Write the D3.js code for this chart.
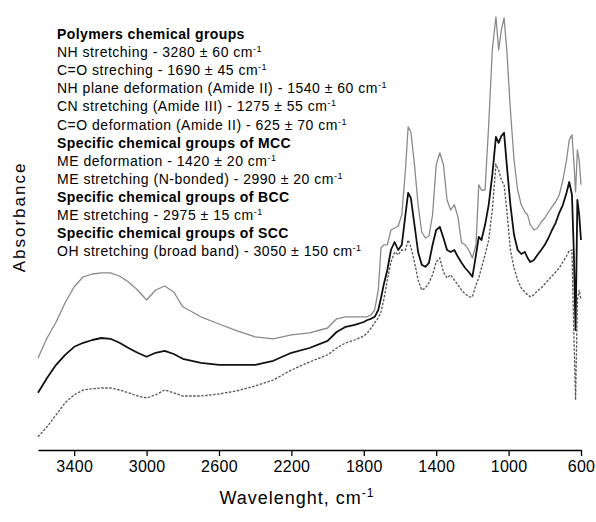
<!DOCTYPE html>
<html>
<head>
<meta charset="utf-8">
<script src="https://cdn.jsdelivr.net/npm/d3@7"></script>
<style>
  html, body { margin: 0; padding: 0; background: #fff; }
  svg { display: block; font-family: Arial, "Liberation Sans", sans-serif; }
</style>
</head>
<body>
<svg id="chart" width="596" height="522"></svg>
<script>
// FTIR spectra: wavenumber grid (cm-1) and absorbance (arbitrary units) for three samples
const wavenumbers = [3600,3550,3500,3450,3400,3350,3300,3250,3200,3150,3100,3050,3000,2950,2900,2850,2800,
  2700,2600,2500,2400,2300,2200,2100,2000,1950,1900,1850,1800,1780,1760,1740,1720,1705,1690,
  1670,1650,1630,1610,1590,1570,1555,1540,1520,1500,1480,1460,1440,1420,1400,1380,1360,1340,1320,1300,
  1280,1260,1240,1220,1200,1180,1165,1150,1130,1110,1090,1070,1055,1040,1025,1010,990,970,950,930,910,
  895,880,860,840,820,800,780,760,740,720,700,680,665,650,640,630,620,610,600];

const seriesGray = [23,28,32,36.8,40.8,43.3,44,44.3,44.3,43.5,42,40,37.5,40,41,39.5,35.8,
  33.3,31.5,29.8,28.3,27.8,28.8,29.3,30.5,32.8,33.3,33.3,33.3,33.3,33.8,35,40,50.5,51.3,
  51.3,55,55.5,56,58.8,70,80.8,79.5,71.3,61.3,54.5,53,53.5,58.8,71.3,74.3,71.3,62.5,60,61.3,
  58.3,51.8,51.3,50,48,51.3,66.3,65,65,81.3,100,108.3,100,105,108,100,85,72.5,65,61.3,59.5,
  58.8,56.3,55,55.5,57,58,59.5,60.8,62,63.8,67.5,72.5,77.5,78.8,72.5,64.5,75,72.5,66.3];

const seriesBlack = [14.3,18,21.3,23.8,25.8,26.8,27.5,28,27.8,26.8,25.5,24.3,23.3,24.3,24.8,24,22.8,
  21.8,21.3,21.3,21.3,22.3,24.3,25.5,27.3,29.5,30.8,31.3,32,32.5,32.8,33.3,35,38,41.3,
  45,50,52,50,51.3,58.8,64.3,63,56.3,49.5,46.3,45.8,46.8,51.3,55,55.8,53,50,49.5,50,
  48.3,46.8,45.5,44.5,43.3,48.8,53.3,52.5,56.3,61.3,68.8,78.3,76.8,78.5,79.3,71.3,61.3,53.8,50,49,49.5,
  48,47,47.5,48.8,50,51.3,53,55,56.8,59.3,61.3,64.3,67,63.8,50,30,62.5,58.8,52.5];

const seriesDotted = [3.3,5.8,8.8,11.8,13.8,15,15.3,15.5,15.5,15,14.3,13.5,13,13.8,15,14.3,13.5,
  13.5,14,14.8,16,17.5,20,22,23.8,25.5,26.8,27.5,28.5,29.3,30.5,31.8,33,34.5,37.5,
  42.5,47,49.5,48.8,50,50,52.5,50.8,47,42.5,40,40.5,41.8,43.8,47,48,44.5,43,43.8,42.5,
  41.3,40,39,38.3,38.3,41.3,43,45.5,48.8,52.5,60,71.3,70,67.5,66.3,60,50,45.5,42.5,40.5,39.5,
  38.8,38.3,38.8,39.8,40.5,41.5,42.5,43.5,44.5,45.5,47,48.5,49.8,50,30,12.5,37.5,40,37.5];

const xTicks = [3400,3000,2600,2200,1800,1400,1000,600];

const annotations = [
  {text: "Polymers chemical groups", bold: true},
  {text: "NH stretching -  3280 ± 60 cm", sup: true},
  {text: "C=O streching - 1690 ± 45  cm", sup: true},
  {text: "NH plane deformation (Amide II) - 1540 ± 60  cm", sup: true},
  {text: "CN stretching (Amide III) - 1275 ± 55  cm", sup: true},
  {text: "C=O deformation (Amide II) - 625 ± 70  cm", sup: true},
  {text: "Specific chemical groups of MCC", bold: true},
  {text: "ME deformation - 1420 ± 20  cm", sup: true},
  {text: "ME stretching (N-bonded) - 2990 ± 20  cm", sup: true},
  {text: "Specific chemical groups of BCC", bold: true},
  {text: "ME stretching - 2975 ± 15  cm", sup: true},
  {text: "Specific chemical groups of SCC", bold: true},
  {text: "OH stretching (broad band) - 3050 ± 150  cm", sup: true}
];

const svg = d3.select("#chart");

const x = d3.scaleLinear().domain([3600, 600]).range([38, 581]);
const y = d3.scaleLinear().domain([0, 110]).range([450, 10]);

const line = d3.line().x(d => x(d[0])).y(d => y(d[1]));
const pts = vals => wavenumbers.map((w, i) => [w, vals[i]]);

// spectra
svg.append("path").attr("d", line(pts(seriesGray)))
  .attr("fill", "none").attr("stroke", "#8a8a8a").attr("stroke-width", 1.3)
  .attr("stroke-linejoin", "round");
svg.append("path").attr("d", line(pts(seriesBlack)))
  .attr("fill", "none").attr("stroke", "#111").attr("stroke-width", 1.8)
  .attr("stroke-linejoin", "round");
svg.append("path").attr("d", line(pts(seriesDotted)))
  .attr("fill", "none").attr("stroke", "#555").attr("stroke-width", 1.3)
  .attr("stroke-dasharray", "2.5,1.5");

// x axis
const xAxis = svg.append("g").attr("transform", "translate(0,450)")
  .call(d3.axisBottom(x).tickValues(xTicks).tickSize(6).tickSizeOuter(0).tickPadding(5).tickFormat(d3.format("d")));
xAxis.select(".domain").attr("stroke", "#000").attr("stroke-width", 1.5);
xAxis.selectAll(".tick line").attr("stroke", "#000").attr("stroke-width", 1.3);
xAxis.selectAll(".tick text").attr("font-size", 16).attr("fill", "#000")
  .attr("font-family", "Arial, 'Liberation Sans', sans-serif").attr("letter-spacing", 0.3);

// axis titles
const xt = svg.append("text").attr("x", 297).attr("y", 504).attr("text-anchor", "middle")
  .attr("font-size", 18).attr("letter-spacing", 1).attr("fill", "#000");
xt.append("tspan").text("Wavelenght, cm");
xt.append("tspan").attr("dy", -7).attr("font-size", 12).text("-1");

svg.append("text").attr("transform", "translate(25,217) rotate(-90)")
  .attr("text-anchor", "middle").attr("font-size", 17).attr("letter-spacing", 2)
  .attr("fill", "#000").text("Absorbance");

// band assignment notes
const notes = svg.append("g").attr("transform", "translate(57,39)");
annotations.forEach((a, i) => {
  const t = notes.append("text").attr("y", i * 18.1).attr("font-size", 14)
    .attr("font-weight", a.bold ? "bold" : "normal").attr("fill", "#000")
    .attr("letter-spacing", a.bold ? 0.4 : 0.5);
  t.append("tspan").text(a.text);
  if (a.sup) t.append("tspan").attr("dy", -5).attr("font-size", 9).text("-1");
});
</script>
</body>
</html>
